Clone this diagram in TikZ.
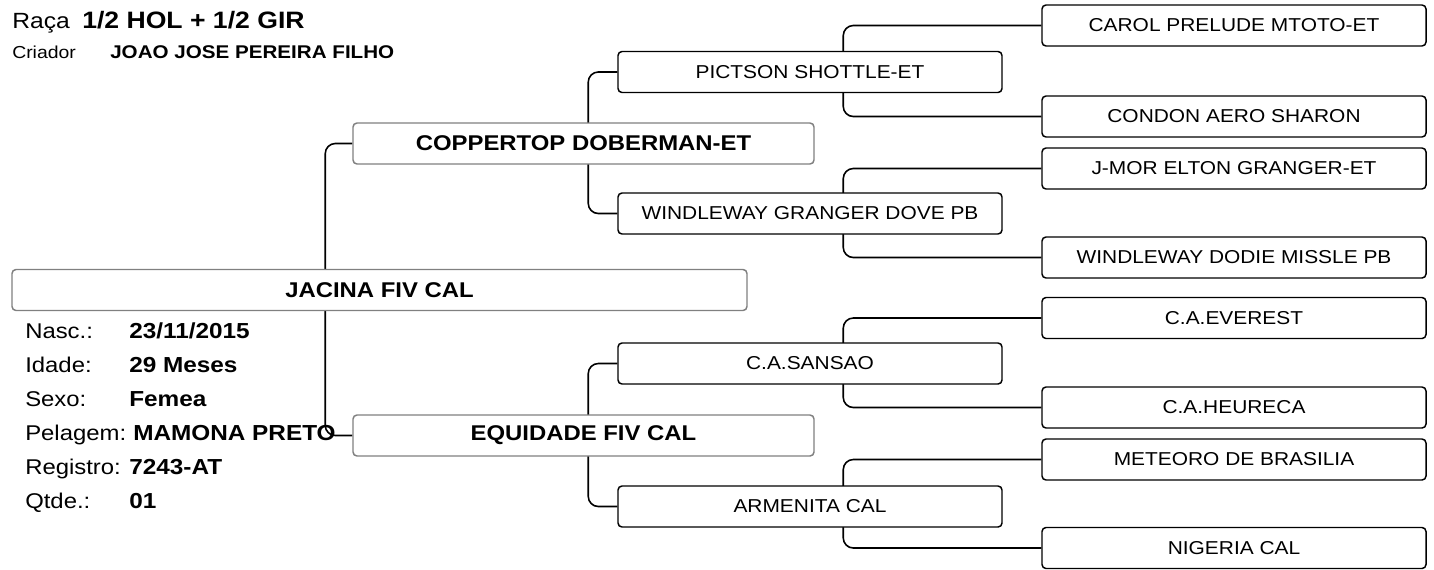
\documentclass[tikz,border=0pt]{standalone}
\usepackage{fontspec}
\setmainfont{Liberation Sans}[FakeStretch=1.12]
\usetikzlibrary{backgrounds}
\tikzset{
  animal/.style={rectangle, rounded corners=3pt, fill=white, line width=1.1pt, minimum height=30.75pt, inner sep=0pt},
  main/.style={animal, draw=black!50, minimum width=345.75pt, font=\bfseries\fontsize{16}{18}\selectfont},
  anc/.style={animal, draw=black, minimum width=288pt, font=\fontsize{14}{16}\selectfont},
  link/.style={line width=1.2pt, rounded corners=7.5pt},
  info/.style={anchor=base west, inner sep=0pt, font=\fontsize{16}{18}\selectfont},
  infoval/.style={info, font=\bfseries\fontsize{16.3}{18}\selectfont},
}
\begin{document}
\begin{tikzpicture}[x=0.75pt, y=-0.75pt]
    \useasboundingbox (0,0) rectangle (1434,569);
    % 1. Cabeçalho
    \node[anchor=base west, inner sep=0pt, font=\fontsize{16.5}{18}\selectfont] (raca) at (12,28) {Raça};
    \node[anchor=base west, inner sep=0pt, font=\bfseries\fontsize{17.8}{19}\selectfont] (racaval) at (82,28) {1/2 HOL + 1/2 GIR};
    \node[anchor=base west, inner sep=0pt, font=\fontsize{13}{15}\selectfont] (criador) at (12,58) {Criador};
    \node[anchor=base west, inner sep=0pt, font=\bfseries\fontsize{13.8}{15}\selectfont] (criadorval) at (110,58) {JOAO JOSE PEREIRA FILHO};

    % 2. Animal, pais e avós
    \node[main, minimum width=551.25pt] (jacina) at (379.5,290) {JACINA FIV CAL};
    \node[main] (coppertop) at (583.5,143.5) {COPPERTOP DOBERMAN-ET};
    \node[main] (equidade) at (583.5,435.5) {EQUIDADE FIV CAL};
    \node[anc] (pictson) at (810,72) {PICTSON SHOTTLE-ET};
    \node[anc] (granger) at (810,213.5) {WINDLEWAY GRANGER DOVE PB};
    \node[anc] (sansao) at (810,363.5) {C.A.SANSAO};
    \node[anc] (armenita) at (810,506.5) {ARMENITA CAL};

    % 3. Bisavós
    \node[anc] (carol) at (1234,25.5) {CAROL PRELUDE MTOTO-ET};
    \node[anc] (condon) at (1234,116.5) {CONDON AERO SHARON};
    \node[anc] (jmor) at (1234,168.5) {J-MOR ELTON GRANGER-ET};
    \node[anc] (dodie) at (1234,257.5) {WINDLEWAY DODIE MISSLE PB};
    \node[anc] (everest) at (1234,318) {C.A.EVEREST};
    \node[anc] (heureca) at (1234,407.5) {C.A.HEURECA};
    \node[anc] (meteoro) at (1234,459.5) {METEORO DE BRASILIA};
    \node[anc] (nigeria) at (1234,548) {NIGERIA CAL};

    % 4. Dados do animal
    \node[info] (nasc) at (25,338) {Nasc.:};
    \node[info] (idade) at (25,372) {Idade:};
    \node[info] (sexo) at (25,406) {Sexo:};
    \node[info] (pelagem) at (25,440) {Pelagem:};
    \node[info] (registro) at (25,474) {Registro:};
    \node[info] (qtde) at (25,508) {Qtde.:};
    \node[infoval] (nascval) at (129,338) {23/11/2015};
    \node[infoval] (idadeval) at (129,372) {29 Meses};
    \node[infoval] (sexoval) at (129,406) {Femea};
    \node[infoval] (pelagemval) at (133,440) {MAMONA PRETO};
    \node[infoval] (registroval) at (129,474) {7243-AT};
    \node[infoval] (qtdeval) at (129,508) {01};

    % 5. Ligações
    \begin{scope}[on background layer]
        \draw[link] (coppertop.west) -| ([xshift=-20.25pt]equidade.west) -- (equidade.west);
        \draw[link] (pictson.west) -| ([xshift=-21.75pt]granger.west) -- (granger.west);
        \draw[link] (sansao.west) -| ([xshift=-21.75pt]armenita.west) -- (armenita.west);
        \draw[link] (carol.west) -| ([xshift=-148.5pt]condon.west) -- (condon.west);
        \draw[link] (jmor.west) -| ([xshift=-148.5pt]dodie.west) -- (dodie.west);
        \draw[link] (everest.west) -| ([xshift=-148.5pt]heureca.west) -- (heureca.west);
        \draw[link] (meteoro.west) -| ([xshift=-148.5pt]nigeria.west) -- (nigeria.west);
    \end{scope}
\end{tikzpicture}
\end{document}
